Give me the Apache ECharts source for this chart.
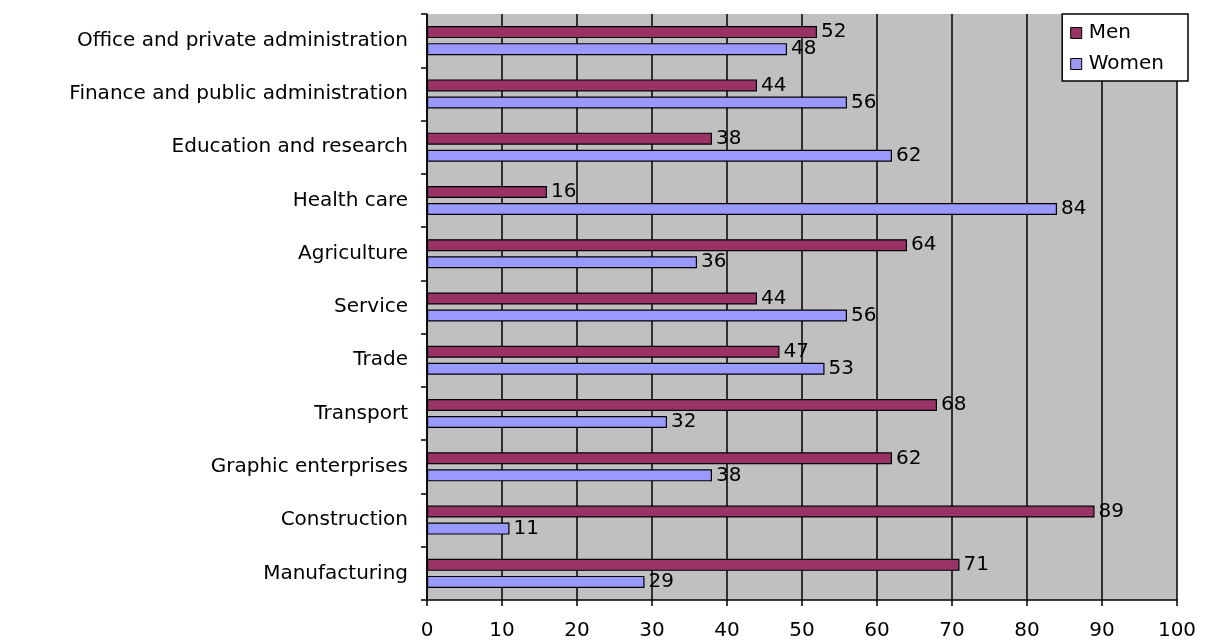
<!DOCTYPE html>
<html><head><meta charset="utf-8">
<script src="https://cdn.jsdelivr.net/npm/echarts@6/dist/echarts.min.js"></script>
<style>html,body{margin:0;padding:0;background:#fff}#c{width:1205px;height:641px}</style>
</head><body><div id="c"></div>
<script>
const categories = ["Office and private administration","Finance and public administration","Education and research","Health care","Agriculture","Service","Trade","Transport","Graphic enterprises","Construction","Manufacturing"];
const men = [52,44,38,16,64,44,47,68,62,89,71];
const women = [48,56,62,84,36,56,53,32,38,11,29];
const xTicks = [0,10,20,30,40,50,60,70,80,90,100];
const FONT = "DejaVu Sans";
const FS = 20;
const chart = echarts.init(document.getElementById('c'));
const lbl = {show:true, position:'right', distance:4, color:'#000', fontFamily:FONT, fontSize:FS};
chart.setOption({
  animation:false,
  textStyle:{fontFamily:FONT},
  grid:{left:427,right:28,top:14,bottom:41,show:true,backgroundColor:'#c0c0c0',borderWidth:0},
  legend:{
    right:17, top:14, orient:'vertical', itemWidth:11, itemHeight:11, itemGap:11,
    backgroundColor:'#fff', borderColor:'#000', borderWidth:1.5, borderRadius:0,
    padding:[9,24,7,8],
    textStyle:{fontFamily:FONT,fontSize:FS,color:'#000',padding:[0,0,0,2]},
    icon:'rect',
    itemStyle:{borderColor:'#000',borderWidth:1},
    data:['Men','Women']
  },
  xAxis:{type:'value',min:0,max:100,interval:10,
    axisLine:{show:true,lineStyle:{color:'#000',width:1.5}},
    axisTick:{show:true,length:6,lineStyle:{color:'#000',width:1.5}},
    axisLabel:{fontFamily:FONT,fontSize:FS,color:'#000',margin:21,formatter:v=>xTicks.includes(v)?String(v):''},
    splitLine:{show:true,lineStyle:{color:'#000',width:1.5}}
  },
  yAxis:{type:'category',data:categories,inverse:true,
    axisLine:{show:true,lineStyle:{color:'#000',width:1.5}},
    axisTick:{show:true,length:6,lineStyle:{color:'#000',width:1.5}},
    axisLabel:{fontFamily:FONT,fontSize:FS,color:'#000',margin:19}
  },
  series:[
    {name:'Men',type:'bar',data:men,barWidth:12,barGap:'42%',
      itemStyle:{color:'#993366',borderColor:'#000',borderWidth:1.2},label:lbl},
    {name:'Women',type:'bar',data:women,barWidth:12,
      itemStyle:{color:'#9999ff',borderColor:'#000',borderWidth:1.2},label:lbl}
  ]
});
</script></body></html>
